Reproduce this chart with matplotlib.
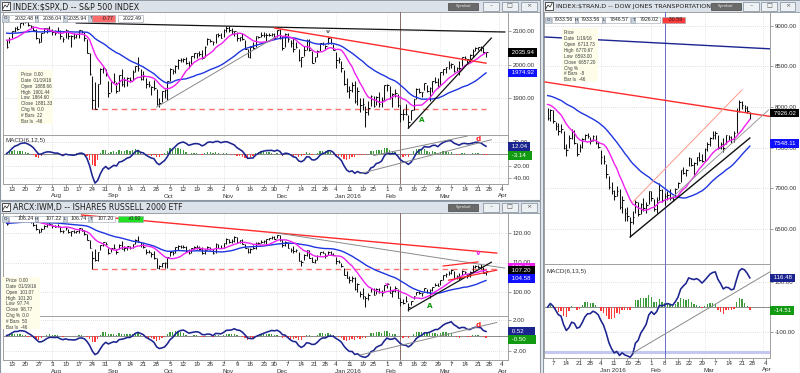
import numpy as np
import pandas as pd
import matplotlib
matplotlib.use("Agg")
import matplotlib.pyplot as plt
from matplotlib.patches import Rectangle
from matplotlib.collections import LineCollection

plt.rcParams['font.family'] = ['DejaVu Sans']
SMALL = ['Liberation Sans', 'DejaVu Sans']

HOLIDAYS = ['2015-09-07', '2015-11-26', '2015-12-25', '2016-01-01',
            '2016-01-18', '2016-02-15', '2016-03-25']

# ---------------- S&P 500 (INDEX:$SPX) daily bars ----------------
spx_first, spx_last = '2015-07-09', '2016-03-24'
spx_close = [
    2051.3, 2076.6, 2099.6, 2108.9, 2107.4, 2124.3, 2126.6, 2128.3, 2119.2, 2114.2, 2102.2, 2079.7, 2067.6, 2093.3, 2108.6, 2108.6, 2104.0,
    2098.0, 2093.3, 2099.8, 2083.6, 2077.6, 2104.2, 2084.1, 2086.1, 2083.4, 2091.5, 2102.4, 2096.9, 2079.6, 2035.7, 1970.9, 1893.2, 1867.6, 1940.5, 1987.7, 1988.9, 1972.2,
    1913.9, 1948.9, 1951.1, 1921.2, 1969.4, 1942.0, 1952.3, 1961.1, 1953.0, 1978.1, 1995.3, 1990.2, 1958.0, 1967.0, 1942.7, 1938.8, 1932.2, 1931.3, 1881.8, 1884.1, 1920.0,
    1923.8, 1951.4, 1987.1, 1979.9, 1995.8, 2013.4, 2014.9, 2017.5, 2003.7, 1994.2, 2023.9, 2033.1, 2033.7, 2030.8, 2018.9, 2052.5, 2075.2, 2071.2, 2065.9, 2090.4, 2089.4, 2079.4,
    2104.1, 2109.8, 2102.3, 2099.9, 2099.2, 2078.6, 2081.7, 2075.0, 2046.0, 2023.0, 2053.2, 2050.4, 2083.6, 2081.2, 2089.2, 2086.6, 2089.1, 2088.9, 2090.1, 2080.4,
    2102.6, 2079.5, 2049.6, 2091.7, 2077.1, 2063.6, 2047.6, 2052.2, 2012.4, 2021.9, 2043.4, 2073.1, 2041.9, 2005.6, 2021.2, 2039.0, 2064.3, 2061.0, 2056.5, 2078.4, 2063.4, 2043.9,
    2012.7, 2016.7, 1990.3, 1943.1, 1922.0, 1923.7, 1938.7, 1890.3, 1921.8, 1880.3, 1881.3, 1859.3, 1869.0, 1906.9, 1877.1, 1903.6, 1883.0, 1893.4, 1940.2,
    1939.4, 1903.0, 1912.5, 1915.5, 1880.1, 1853.4, 1852.2, 1851.9, 1829.1, 1864.8, 1895.6, 1926.8, 1917.8, 1917.8, 1945.5, 1921.3, 1929.8, 1951.7, 1948.1, 1932.2,
    1978.4, 1986.5, 1993.4, 2000.0, 2001.8, 1979.3, 1989.3, 1989.6, 2022.2, 2019.6, 2015.9, 2027.2, 2040.6, 2049.6, 2051.6, 2049.8, 2036.7, 2035.9]
spx_high = [
    2074, 2081, 2100, 2111, 2114, 2125, 2127, 2133, 2129, 2119, 2116, 2106, 2078, 2095, 2110, 2110, 2114,
    2105, 2102, 2112, 2103, 2082, 2105, 2102, 2087, 2093, 2092, 2103, 2103, 2096, 2077, 2034, 1965, 1948, 1943, 1989, 1993, 1986,
    1950, 1949, 1975, 1947, 1970, 1986, 1962, 1962, 1963, 1983, 1997, 2021, 1988, 1981, 1961, 1950, 1937, 1953, 1927, 1899, 1920,
    1927, 1951, 1990, 1987, 1999, 2016, 2020, 2019, 2023, 2009, 2024, 2033, 2035, 2039, 2044, 2055, 2079, 2075, 2070, 2090, 2093, 2094,
    2106, 2116, 2114, 2108, 2101, 2096, 2083, 2093, 2072, 2045, 2054, 2066, 2085, 2086, 2097, 2096, 2094, 2093, 2094, 2093,
    2104, 2105, 2085, 2094, 2093, 2073, 2080, 2068, 2047, 2022, 2054, 2076, 2076, 2040, 2023, 2042, 2065, 2067, 2059, 2081, 2078, 2062,
    2038, 2022, 2011, 1985, 1961, 1935, 1947, 1950, 1934, 1901, 1901, 1876, 1890, 1909, 1907, 1906, 1917, 1902, 1940,
    1942, 1935, 1916, 1928, 1913, 1878, 1868, 1881, 1849, 1865, 1896, 1931, 1930, 1918, 1946, 1939, 1932, 1952, 1963, 1959,
    1979, 1986, 1993, 2009, 2004, 1998, 1994, 2010, 2022, 2024, 2017, 2032, 2046, 2053, 2053, 2056, 2052, 2036]
spx_low = [
    2048, 2065, 2080, 2096, 2102, 2110, 2119, 2124, 2115, 2110, 2099, 2077, 2064, 2067, 2095, 2094, 2103,
    2088, 2088, 2095, 2076, 2067, 2078, 2076, 2053, 2077, 2078, 2080, 2094, 2070, 2035, 1970, 1867, 1867, 1872, 1942, 1975, 1965,
    1904, 1917, 1944, 1916, 1922, 1937, 1933, 1937, 1949, 1954, 1977, 1980, 1953, 1954, 1930, 1933, 1908, 1923, 1879, 1872, 1888,
    1900, 1894, 1951, 1972, 1976, 1987, 2007, 2007, 2001, 1991, 1998, 2020, 2020, 2026, 2017, 2022, 2058, 2066, 2058, 2063, 2082, 2079,
    2081, 2097, 2096, 2091, 2084, 2071, 2069, 2074, 2046, 2022, 2020, 2045, 2051, 2078, 2083, 2081, 2070, 2086, 2084, 2080,
    2083, 2077, 2042, 2051, 2066, 2053, 2036, 2050, 2009, 1993, 2026, 2043, 2041, 2005, 2006, 2023, 2039, 2059, 2045, 2061, 2062, 2043,
    1990, 2005, 1979, 1938, 1918, 1901, 1918, 1886, 1878, 1857, 1865, 1812, 1848, 1877, 1873, 1878, 1873, 1873, 1894,
    1920, 1898, 1872, 1903, 1873, 1829, 1834, 1850, 1810, 1834, 1865, 1898, 1915, 1903, 1924, 1918, 1891, 1918, 1945, 1931,
    1937, 1969, 1975, 1986, 1990, 1977, 1980, 1969, 1997, 2012, 2004, 2006, 2022, 2041, 2044, 2040, 2035, 2022]
spx_pink_seed, spx_blue_seed = 2075.0, 2095.0

# ---------------- iShares Russell 2000 (ARCX:IWM) daily bars ----------------
iwm_close = [
    123.0, 124.0, 125.0, 125.6, 124.9, 125.9, 125.4, 125.1, 124.0, 123.6, 122.6, 121.2, 120.2, 121.4, 122.5, 123.2, 123.2,
    122.4, 122.2, 122.4, 120.8, 120.6, 121.8, 120.4, 120.6, 120.2, 120.6, 121.6, 120.8, 119.8, 117.6, 115.0, 111.5, 110.7, 113.4, 116.0, 116.8, 116.4,
    113.1, 114.9, 114.8, 113.5, 116.1, 114.7, 115.0, 115.5, 114.8, 116.3, 117.7, 117.4, 115.9, 115.4, 113.6, 113.6, 113.0, 111.6, 108.2, 108.7, 109.7,
    109.9, 111.7, 113.6, 113.1, 115.1, 115.5, 115.3, 115.3, 113.9, 113.3, 114.9, 115.3, 115.4, 114.6, 113.2, 114.3, 115.1, 114.6, 113.3, 116.4, 115.0, 114.9,
    116.5, 117.8, 117.0, 117.4, 118.6, 117.0, 117.6, 116.4, 114.9, 113.4, 114.7, 114.8, 116.7, 116.6, 117.0, 117.3, 117.9, 118.3, 118.8, 118.1,
    119.2, 117.5, 115.8, 117.0, 115.0, 114.1, 113.8, 114.1, 110.5, 110.3, 112.4, 114.2, 111.6, 110.3, 110.8, 112.2, 113.6, 113.3, 112.1, 113.7, 112.9, 112.6,
    110.6, 110.2, 108.9, 105.9, 104.9, 104.0, 104.6, 101.0, 102.7, 99.4, 98.8, 98.1, 98.9, 101.1, 99.0, 101.0, 99.9, 99.7, 102.4,
    102.8, 99.7, 100.5, 101.2, 98.0, 96.6, 96.4, 96.8, 94.8, 97.0, 98.5, 100.0, 99.6, 99.6, 101.3, 99.9, 100.8, 101.7, 102.5, 102.0,
    104.2, 105.6, 106.2, 106.6, 107.6, 104.8, 105.4, 104.8, 107.2, 106.8, 105.5, 106.7, 108.4, 108.7, 108.5, 108.6, 106.4, 107.2]
iwm_high = [
    124.6, 124.4, 125.2, 125.8, 125.9, 126.2, 126.0, 125.8, 125.3, 124.2, 124.0, 122.9, 121.4, 121.6, 122.7, 123.3, 123.9,
    123.2, 122.8, 123.2, 122.5, 121.0, 122.0, 121.3, 120.8, 121.1, 120.8, 121.7, 121.8, 121.0, 119.5, 117.6, 114.0, 114.7, 113.6, 116.1, 117.0, 117.0,
    115.0, 115.0, 116.4, 114.6, 116.2, 117.3, 115.5, 115.5, 115.6, 116.4, 117.8, 119.0, 116.9, 116.7, 114.6, 114.3, 113.6, 113.9, 111.6, 109.3, 109.9,
    110.1, 111.8, 113.8, 113.9, 115.4, 115.8, 115.9, 115.8, 115.5, 114.5, 115.0, 115.6, 115.8, 115.5, 115.2, 114.6, 115.6, 115.3, 114.5, 116.5, 116.4, 115.8,
    116.6, 118.3, 118.1, 117.8, 118.9, 118.5, 117.7, 117.9, 116.3, 115.0, 114.8, 115.8, 116.8, 117.1, 117.5, 117.7, 118.1, 118.4, 118.9, 118.9,
    119.4, 119.4, 117.8, 117.2, 117.1, 114.9, 115.5, 114.6, 113.6, 110.8, 112.8, 114.4, 114.4, 111.8, 111.2, 112.4, 113.7, 113.8, 113.2, 113.9, 113.8, 113.2,
    111.7, 111.0, 109.7, 108.1, 107.0, 105.4, 105.5, 105.1, 103.1, 100.3, 101.2, 98.7, 99.8, 101.3, 101.2, 101.2, 101.5, 100.8, 102.4,
    103.1, 102.2, 100.8, 101.9, 101.0, 97.9, 97.6, 98.5, 96.2, 97.0, 98.6, 100.1, 100.3, 99.7, 101.4, 101.1, 100.9, 101.7, 103.1, 103.2,
    104.2, 105.7, 106.3, 107.2, 107.9, 107.0, 105.6, 106.4, 107.3, 107.2, 106.0, 107.0, 109.1, 109.3, 109.2, 109.5, 108.4, 107.2]
iwm_low = [
    122.8, 123.3, 124.2, 124.9, 124.7, 125.2, 125.1, 124.8, 123.8, 123.3, 122.4, 121.0, 119.9, 120.3, 121.2, 121.9, 122.8,
    121.7, 121.9, 122.0, 120.4, 119.9, 121.0, 120.0, 118.9, 120.0, 119.9, 120.0, 120.6, 119.2, 117.6, 115.0, 107.8, 110.6, 110.6, 114.3, 115.6, 115.8,
    112.8, 113.4, 114.5, 112.9, 114.6, 114.5, 113.9, 114.1, 114.6, 114.8, 116.3, 116.9, 115.3, 114.8, 112.9, 113.2, 112.0, 111.3, 108.0, 107.7, 108.6,
    108.3, 108.3, 112.1, 112.6, 113.1, 114.1, 114.9, 114.8, 113.7, 113.0, 113.3, 114.6, 114.6, 114.3, 113.0, 112.9, 114.1, 114.1, 113.0, 113.2, 114.8, 114.8,
    115.0, 116.3, 116.7, 116.5, 116.8, 116.6, 116.6, 116.3, 114.9, 113.2, 113.2, 114.6, 114.6, 116.2, 116.5, 116.6, 116.3, 117.7, 118.1, 117.9,
    118.2, 117.3, 115.4, 115.6, 114.8, 113.5, 113.2, 113.7, 110.4, 108.8, 111.0, 112.3, 111.5, 110.1, 110.0, 110.9, 112.4, 113.1, 111.6, 112.7, 112.8, 112.5,
    109.5, 109.8, 108.4, 105.6, 104.8, 102.9, 103.3, 100.8, 99.9, 98.3, 97.7, 94.8, 97.2, 99.9, 98.9, 99.3, 99.5, 98.8, 100.2,
    101.5, 99.5, 98.4, 100.1, 97.8, 95.4, 95.8, 96.5, 93.7, 95.6, 97.5, 98.9, 99.4, 98.6, 100.4, 99.8, 97.8, 100.4, 102.0, 101.9,
    102.3, 103.9, 105.1, 105.8, 106.0, 104.7, 104.5, 104.1, 105.7, 106.2, 104.9, 105.1, 106.7, 108.2, 108.1, 107.8, 106.3, 105.7]
iwm_pink_seed, iwm_blue_seed = 123.8, 123.3

# ---------------- Dow Jones Transportation (INDEX:$TRAN) daily bars ----------------
tran_first, tran_last = '2015-12-03', '2016-03-24'
tran_close = [
    7860, 7960, 7830, 7760, 7700, 7730, 7500, 7470, 7620, 7700, 7560, 7420, 7510, 7600, 7660, 7640, 7580, 7640, 7560, 7508,
    7380, 7330, 7170, 7010, 6960, 6900, 6960, 6770, 6860, 6700, 6657, 6580, 6640, 6830, 6680, 6800, 6760, 6790, 6960,
    6880, 6740, 6860, 6980, 6860, 6900, 6920, 6880, 6870, 6990, 7060, 7220, 7190, 7230, 7370, 7280, 7310, 7380, 7350, 7330,
    7480, 7550, 7620, 7650, 7680, 7500, 7540, 7490, 7650, 7630, 7600, 7680, 7950, 8060, 8020, 7990, 7956, 7926]
tran_high = [
    7990, 7980, 7960, 7820, 7800, 7790, 7700, 7540, 7660, 7730, 7720, 7560, 7540, 7620, 7670, 7680, 7630, 7660, 7650, 7570,
    7470, 7410, 7300, 7150, 7080, 6980, 7030, 6990, 6900, 6760, 6770, 6640, 6720, 6860, 6830, 6820, 6880, 6830, 6970,
    6960, 6870, 6890, 7060, 6990, 6940, 6960, 6990, 6900, 7000, 7080, 7230, 7260, 7240, 7390, 7370, 7320, 7390, 7440, 7420,
    7490, 7570, 7630, 7700, 7710, 7660, 7570, 7620, 7660, 7660, 7640, 7700, 7990, 8090, 8070, 8030, 8010, 7934]
tran_low = [
    7840, 7830, 7800, 7720, 7660, 7680, 7480, 7400, 7490, 7600, 7550, 7400, 7440, 7500, 7590, 7620, 7540, 7580, 7550, 7500,
    7300, 7300, 7120, 6990, 6930, 6850, 6900, 6750, 6700, 6600, 6590, 6400, 6560, 6700, 6660, 6680, 6720, 6700, 6800,
    6840, 6720, 6700, 6850, 6830, 6790, 6850, 6860, 6840, 6890, 7000, 7080, 7170, 7150, 7270, 7270, 7150, 7290, 7340, 7320,
    7340, 7460, 7520, 7600, 7610, 7480, 7480, 7450, 7540, 7590, 7560, 7570, 7680, 7940, 7980, 7940, 7930, 7847]
tran_pink_seed, tran_blue_seed = 8050.0, 8150.0

# ---------------- drawn trendlines / notes (date, value) ----------------
spx_lines_black = [[('2015-08-14', 2124), ('2016-04-05', 2097)], [('2016-02-11', 1810), ('2016-03-29', 2079)]]
spx_line_red = [('2015-11-30', 2109), ('2016-03-24', 2004)]
spx_line_gray = [('2015-09-28', 1873), ('2015-11-30', 2080)]
spx_support = (1867, '2015-08-24', '2016-03-24')
spx_macd_lines = [[('2016-01-25', -3.5), ('2016-03-15', 29)], [('2016-01-15', -33.5), ('2016-03-29', 23)]]
iwm_line_red = [('2015-08-18', 126.1), ('2016-03-31', 113.2)]
iwm_line_gray = [('2015-12-01', 120.0), ('2016-04-05', 108.1)]
iwm_line_black = [('2016-02-11', 93.9), ('2016-03-29', 110.1)]
iwm_wedge_red = [[('2016-03-02', 108.8), ('2016-03-21', 110.2)], [('2016-03-04', 104.0), ('2016-03-31', 107.4)]]
iwm_support = (107.8, '2015-08-24', '2016-03-31')
iwm_macd_line = [('2016-01-15', -2.47), ('2016-03-31', 1.67)]
tran_line_navy = [('2015-12-02', 8862), ('2016-04-07', 8714)]
tran_line_red = [('2015-12-02', 8308), ('2016-04-07', 7877)]
tran_line_salmon = [('2016-01-21', 6830), ('2016-03-21', 8209)]
tran_line_gray = [('2016-02-11', 6892), ('2016-04-05', 7963)]
tran_line_black = [('2016-01-20', 6400), ('2016-03-24', 7618)]
tran_macd_line = [('2016-01-21', -184), ('2016-04-08', 156)]
tran_macd_floor = -180
cursor_date = '2016-02-08'

# ---------------------------------------------------------------------
def tdays(a, b):
    d = pd.bdate_range(a, b)
    return d[~d.isin(pd.to_datetime(HOLIDAYS))]

LCAL = tdays('2015-07-06', '2016-04-15')
RCAL = tdays('2015-11-30', '2016-04-15')

def P(cal, d):
    return float(cal.get_loc(pd.Timestamp(d)))

def sma_seeded(c, n, seed):
    s = pd.Series([seed] * (n - 1) + list(c), dtype=float)
    return s.rolling(n).mean().values[n - 1:]

def ema(vals, span, seed):
    a = 2.0 / (span + 1)
    out, e = [], seed
    for v in vals:
        e = e + a * (v - e)
        out.append(e)
    return np.array(out)

def macd(c, f, s, sg):
    m = ema(c, f, c[0]) - ema(c, s, c[0])
    return m, m - ema(m, sg, 0.0)

W, H = 800, 373
fig = plt.figure(figsize=(8.0, 3.73), dpi=100)
fig.patch.set_facecolor('#e8ebef')

bg = fig.add_axes([0, 0, 1, 1])
bg.set_xlim(0, W); bg.set_ylim(H, 0); bg.axis('off'); bg.set_zorder(0)

def pax(x0, y0, x1, y1):
    a = fig.add_axes([x0 / W, 1 - y1 / H, (x1 - x0) / W, (y1 - y0) / H])
    a.set_zorder(5)
    return a

def window(x0, y0, x1, y1, title, symx, bstep, tsize):
    bg.add_patch(Rectangle((x0, y0), x1 - x0, y1 - y0, fc='white', ec='#8c97a3', lw=0.8, zorder=1))
    bg.add_patch(Rectangle((x0, y0), x1 - x0, 12, fc='#dce2e9', ec='#8c97a3', lw=0.6, zorder=1))
    bg.add_patch(Rectangle((x0 + 2, y0 + 2), 8, 8, fc='white', ec='#333333', lw=0.6, zorder=2))
    bg.plot([x0 + 3, x0 + 5, x0 + 7, x0 + 9], [y0 + 8.5, y0 + 5, y0 + 7, y0 + 3.5], color='#333333', lw=0.6, zorder=2)
    bg.text(x0 + 13, y0 + 6.6, title, fontsize=tsize, va='center', ha='left', color='#1e1e1e', zorder=2)
    bg.add_patch(Rectangle((symx, y0 + 3), 30, 6.5, fc='#6a6a6a', ec='#444444', lw=0.5, zorder=3))
    bg.text(symx + 15, y0 + 6.3, 'Symbol', fontsize=3, color='#eeeeee', ha='center', va='center', zorder=4)
    for k, sym in enumerate(['\u2013', '\u25a1', '\u00d7']):
        bx = x1 - 57 + k * bstep
        bg.add_patch(Rectangle((bx, y0 + 1.5), 15.5, 9, fc='#eef1f4', ec='#7f8b97', lw=0.5, zorder=3))
        bg.text(bx + 7.75, y0 + 6, sym, fontsize=4.5, color='#555555', ha='center', va='center', zorder=4)

window(0, 0, 540, 200, 'INDEX:$SPX,D -- S&P 500 INDEX', 448, 19, 5.7)
window(0, 201, 540, 373, 'ARCX:IWM,D -- ISHARES RUSSELL 2000 ETF', 448, 19, 5.7)
window(543, 0, 800, 373, 'INDEX:$TRAN,D -- DOW JONES TRANSPORTATION A', 711, 18.3, 4.6)

def draw_bars(ax, x, hi, lo, cl):
    ax.add_collection(LineCollection([((a, l), (a, h)) for a, h, l in zip(x, hi, lo)],
                                     colors='#111111', linewidths=0.75, zorder=4))
    ax.add_collection(LineCollection([((a, c), (a + 0.6, c)) for a, c in zip(x, cl)],
                                     colors='#111111', linewidths=0.75, zorder=4))

def style(ax, xlim, ylim, yticks, fmt, zero=False):
    ax.set_xlim(*xlim); ax.set_ylim(*ylim)
    ax.set_facecolor('white')
    for s in ax.spines.values():
        s.set_color('#a0a0a0'); s.set_linewidth(0.7)
    ax.yaxis.tick_right()
    ax.set_yticks(yticks)
    ax.set_yticklabels([fmt % v for v in yticks], fontsize=4.4, family=SMALL)
    ax.tick_params(axis='y', length=2, width=0.5, pad=1.5, color='#777777', labelcolor='#333333')
    ax.tick_params(axis='x', bottom=False, labelbottom=False)
    for v in yticks:
        ax.axhline(v, color='#c4c4c4', lw=0.5, ls=(0, (1, 2)), zorder=1)
    if zero:
        ax.axhline(0, color='#8a8a8a', lw=0.7, zorder=2)

def week_month(cal, xlim):
    ticks, months = [], []
    for i in range(1, len(cal)):
        d, p = cal[i], cal[i - 1]
        if not (xlim[0] <= i <= xlim[1]):
            continue
        if d.isocalendar()[1] != p.isocalendar()[1]:
            ticks.append((i, str(d.day)))
        if d.month != p.month:
            months.append((i, d.strftime('%b') + (' 2016' if d.month == 1 else '')))
    return ticks, months

def month_grid(ax, months):
    for i, _ in months:
        ax.axvline(i, color='#d0d0d0', lw=0.5, ls=(0, (1, 2)), zorder=1)

def date_axis(ax, ticks, months):
    ax.set_xticks([t for t, _ in ticks])
    ax.tick_params(axis='x', bottom=True, length=2, width=0.5, color='#777777', labelbottom=False)
    for t, lab in ticks:
        ax.annotate(lab, xy=(t, 0), xycoords=('data', 'axes fraction'), xytext=(0, -3),
                    textcoords='offset pixels', ha='center', va='top', fontsize=4.5, family=SMALL,
                    color='#333333', annotation_clip=False)
    for t, lab in months:
        ax.annotate(lab, xy=(t, 0), xycoords=('data', 'axes fraction'), xytext=(-1, -9.5),
                    textcoords='offset pixels', ha='left', va='top', fontsize=4.5, family=SMALL,
                    color='#333333', annotation_clip=False)

def rlabel(ax, val, text, fc, tc='white'):
    ax.annotate(' ' + text + ' ', xy=(1, val), xycoords=ax.get_yaxis_transform(), xytext=(1.5, 0),
                textcoords='offset pixels', ha='left', va='center', fontsize=4.4, family=SMALL, color=tc,
                bbox=dict(boxstyle='square,pad=0.3', fc=fc, ec='none'), annotation_clip=False, zorder=20)

def tline(ax, cal, pts, **kw):
    ax.plot([P(cal, d) for d, _ in pts], [v for _, v in pts], **kw)

def note(ax, cal, d, v, s, color, size=5.2):
    ax.text(P(cal, d), v, s, color=color, fontsize=size, fontweight='bold', ha='center', va='center', zorder=8)

PINK, BLUE, NAVY = '#f020f0', '#1f35e0', '#1c2490'
GREEN_H, RED_H = '#3c9a3c', '#ff3a3a'

# ---------------- left charts x scale ----------------
p13 = P(LCAL, '2015-07-13')
LX = (p13 - (12 - 3) / 2.678, p13 + (508 - 12) / 2.678)
lticks, lmonths = week_month(LCAL, LX)

def panel_set(cal, xlim, ticks, months, first, last, hi, lo, cl, pink_seed, blue_seed,
              pbox, mbox, ylim, yticks, yfmt, mylim, myticks, mfmt, mparams, cursor_col):
    x = np.array([P(cal, d) for d in tdays(first, last)])
    assert len(x) == len(cl) == len(hi) == len(lo), (len(x), len(cl), len(hi), len(lo))
    ax = pax(*pbox)
    style(ax, xlim, ylim, yticks, yfmt)
    month_grid(ax, months)
    draw_bars(ax, x, hi, lo, cl)
    ax.plot(x, sma_seeded(cl, 30, blue_seed), color=BLUE, lw=1.0, zorder=5)
    ax.plot(x, sma_seeded(cl, 10, pink_seed), color=PINK, lw=1.0, zorder=5)
    ax.axvline(P(cal, cursor_date), color=cursor_col, lw=0.7, zorder=3)
    mx = pax(*mbox)
    style(mx, xlim, mylim, myticks, mfmt, zero=True)
    month_grid(mx, months)
    m, h = macd(cl, *mparams)
    mx.bar(x, h, width=0.5, color=[GREEN_H if v >= 0 else RED_H for v in h], zorder=3)
    mx.plot(x, m, color=NAVY, lw=1.15, zorder=6)
    mx.axvline(P(cal, cursor_date), color=cursor_col, lw=0.7, zorder=3)
    date_axis(mx, ticks, months)
    return ax, mx, m, h

# ---------------- S&P 500 ----------------
sa, sm, s_m, s_h = panel_set(LCAL, LX, lticks, lmonths, spx_first, spx_last, spx_high, spx_low, spx_close,
                             spx_pink_seed, spx_blue_seed, (3, 12, 508, 135), (3, 135, 508, 184),
                             (2100 - (135 - 31) / 0.335, 2100 + (31 - 12) / 0.335), [1900, 2000, 2100], '%.2f',
                             (-(184 - 153.5) / 0.6, (153.5 - 135) / 0.6), [-40, -20, 20], '%.2f', (6, 12, 5), '#8c6a6a')
for seg in spx_lines_black:
    tline(sa, LCAL, seg, color='#111111', lw=0.9, zorder=6)
tline(sa, LCAL, spx_line_red, color='#ff2a2a', lw=1.0, zorder=6)
tline(sa, LCAL, spx_line_gray, color='#8a8a8a', lw=0.7, zorder=6)
sa.plot([P(LCAL, spx_support[1]), P(LCAL, spx_support[2])], [spx_support[0]] * 2,
        color='#ff7070', lw=1.0, ls=(0, (4, 3)), zorder=3)
note(sa, LCAL, '2016-02-19', 1834, 'A', '#0a9a0a')
note(sa, LCAL, '2015-12-29', 2099, 'v', '#555555', 4.5)
rlabel(sa, 2035.94, '2035.94', '#000000')
rlabel(sa, 1974.92, '1974.92', '#1010ff')
for seg in spx_macd_lines:
    tline(sm, LCAL, seg, color='#8a8a8a', lw=0.7, zorder=6)
note(sm, LCAL, '2016-03-21', 24, 'd', '#ff2020')
sm.text(0.005, 0.93, 'MACD(6,12,5)', transform=sm.transAxes, fontsize=4.5, family=SMALL, color='#333333', va='top')
rlabel(sm, s_m[-1], '%.2f' % s_m[-1], NAVY)
rlabel(sm, -3.14, '-3.14  ', '#139a13')

# ---------------- IWM ----------------
ia, im, i_m, i_h = panel_set(LCAL, LX, lticks, lmonths, spx_first, spx_last, iwm_high, iwm_low, iwm_close,
                             iwm_pink_seed, iwm_blue_seed, (3, 213, 508, 315.6), (3, 315.6, 508, 359.5),
                             (120 - (315.6 - 233) / 2.95, 120 + (233 - 213) / 2.95), [100, 110, 120], '%.2f',
                             (-(359.5 - 335.6) / 7.85, (335.6 - 315.6) / 7.85), [-2, 2], '%.2f', (6, 12, 5), '#8c6a6a')
tline(ia, LCAL, iwm_line_red, color='#ff2a2a', lw=1.0, zorder=6)
tline(ia, LCAL, iwm_line_gray, color='#8a8a8a', lw=0.7, zorder=6)
tline(ia, LCAL, iwm_line_black, color='#111111', lw=0.9, zorder=6)
for seg in iwm_wedge_red:
    tline(ia, LCAL, seg, color='#ff2a2a', lw=0.9, zorder=6)
ia.plot([P(LCAL, iwm_support[1]), P(LCAL, iwm_support[2])], [iwm_support[0]] * 2,
        color='#ff7070', lw=1.0, ls=(0, (4, 3)), zorder=3)
note(ia, LCAL, '2016-02-24', 95.3, 'A', '#0a9a0a')
note(ia, LCAL, '2016-03-21', 113.2, 'v', PINK)
note(ia, LCAL, '2016-02-01', 102.4, 'v', PINK, 4.5)
rlabel(ia, 108.45, '108.45 ', PINK)
rlabel(ia, 107.20, '107.20 ', '#000000')
rlabel(ia, 104.58, '104.58 ', '#1010ff')
tline(im, LCAL, iwm_macd_line, color='#8a8a8a', lw=0.7, zorder=6)
note(im, LCAL, '2016-03-21', 1.35, 'd', '#ff2020')
rlabel(im, i_m[-1], '%.2f     ' % i_m[-1], NAVY)
rlabel(im, -0.50, '-0.50    ', '#139a13')

# ---------------- TRAN ----------------
p7 = P(RCAL, '2015-12-07')
RX = (p7 - (553 - 544) / 2.66, p7 + (770 - 553) / 2.66)
rticks, rmonths = week_month(RCAL, RX)
ta, tm, t_m, t_h = panel_set(RCAL, RX, rticks, rmonths, tran_first, tran_last, tran_high, tran_low, tran_close,
                             tran_pink_seed, tran_blue_seed, (544, 12, 770, 264), (544, 264, 770, 358),
                             (8000 - (264 - 107) / 0.0812, 8000 + (107 - 12) / 0.0812),
                             [6500, 7000, 7500, 8000, 8500, 9000], '%.2f',
                             (-(358 - 307) / 0.25, (307 - 264) / 0.25), [-100, 100], '%.2f', (6, 13, 5), '#6a6ad0')
tline(ta, RCAL, tran_line_navy, color='#1c2490', lw=1.0, zorder=6)
tline(ta, RCAL, tran_line_red, color='#ff2a2a', lw=1.0, zorder=6)
tline(ta, RCAL, tran_line_salmon, color='#ff9a8a', lw=0.7, zorder=6)
tline(ta, RCAL, tran_line_gray, color='#9a9a9a', lw=0.7, zorder=6)
tline(ta, RCAL, tran_line_black, color='#111111', lw=1.0, zorder=6)
rlabel(ta, 7926.02, '7926.02', '#000000')
rlabel(ta, 7548.11, '7548.11', '#1010ff')
tline(tm, RCAL, tran_macd_line, color='#8a8a8a', lw=0.7, zorder=6)
tm.axhline(tran_macd_floor, color='#c4c8f0', lw=2.2, zorder=2)
tm.text(0.01, 0.95, 'MACD(6,13,5)', transform=tm.transAxes, fontsize=4.5, family=SMALL, color='#333333', va='top')
rlabel(tm, t_m[-1], '%.2f' % t_m[-1], NAVY)
rlabel(tm, -14.51, '-14.51', '#139a13')

# ---------------- overlays: quote rows and data windows ----------------
ov = fig.add_axes([0, 0, 1, 1])
ov.set_xlim(0, W); ov.set_ylim(H, 0); ov.axis('off'); ov.set_zorder(10); ov.patch.set_alpha(0)

def quote_row(y, items):
    for kind, txt, x0, x1, fc in items:
        if kind == 'lab':
            ov.add_patch(Rectangle((x0, y), x1 - x0, 6.5, fc='#c9d3de', ec='#8c97a3', lw=0.4))
            ov.text((x0 + x1) / 2, y + 3.3, txt, fontsize=3.2, ha='center', va='center', color='#222222')
        else:
            ov.add_patch(Rectangle((x0, y), x1 - x0, 6.5, fc=fc, ec='#9aa4ae', lw=0.4))
            ov.text(x1 - 1.5, y + 3.3, txt, fontsize=3.8, family=SMALL, ha='right', va='center', color='#222222')

def row_items(vals, colors):
    spans = [(9, 35), (38, 63), (67, 88), (92, 115), (118, 143)]
    labs = [('O', 2, 8), ('H', 35, 38), ('L', 63, 67), ('T', 88, 92)]
    out = [('lab', t, a, b, None) for t, a, b in labs]
    out += [('box', v, a, b, c) for v, (a, b), c in zip(vals, spans, colors)]
    return out

quote_row(15, row_items(['2032.48', '2036.04', '2035.94', '-0.77', '2022.49'],
                        ['white', 'white', 'white', '#ff6a6a', 'white']))
quote_row(215.5, row_items(['106.24', '107.22', '106.74', '107.20', '+0.92'],
                           ['white', 'white', 'white', 'white', '#22e022']))
tran_items = [('lab', 'O', 545, 551, None), ('box', '7933.56', 552, 575, 'white'),
              ('lab', 'H', 575, 578, None), ('box', '7933.56', 578, 602, 'white'),
              ('lab', 'L', 602, 605, None), ('box', '7846.57', 605, 630, 'white'),
              ('lab', 'T', 631, 635, None), ('box', '7926.02', 635, 660, 'white'),
              ('box', '-30.59', 662, 685, '#ff3a3a')]
quote_row(16.5, tran_items)

def info_box(x0, y0, x1, y1, lx, ytop, rows):
    ov.add_patch(Rectangle((x0, y0), x1 - x0, y1 - y0, fc='#fdfde9', ec='none'))
    for k, r in enumerate(rows):
        ov.text(lx, ytop + k * 5.85, r, fontsize=3.3, family=SMALL, ha='left', va='center', color='#3a3a3a')

info_box(18, 70, 53, 124, 21, 74.5,
         ['Price  0.00', 'Date  01/19/16', 'Open  1888.66', 'High  1901.44', 'Low  1864.60',
          'Close  1881.33', 'Chg %  0.0', '# Bars  22', 'Bar Is  -46'])
info_box(2, 277, 40, 329, 6, 280.5,
         ['Price  0.00', 'Date  01/19/16', 'Open  101.07', 'High  101.20', 'Low  97.74',
          'Close  98.77', 'Chg %  0.0', '# Bars  50', 'Bar Is  -46'])
info_box(562, 28, 598, 82, 564, 33,
         ['Price', 'Date  1/19/16', 'Open  6713.73', 'High  6770.67', 'Low  6593.00',
          'Close  6657.20', 'Chg %', '# Bars  -8', 'Bar Is  -46'])

fig.savefig('out.png', dpi=100, facecolor=fig.get_facecolor())
